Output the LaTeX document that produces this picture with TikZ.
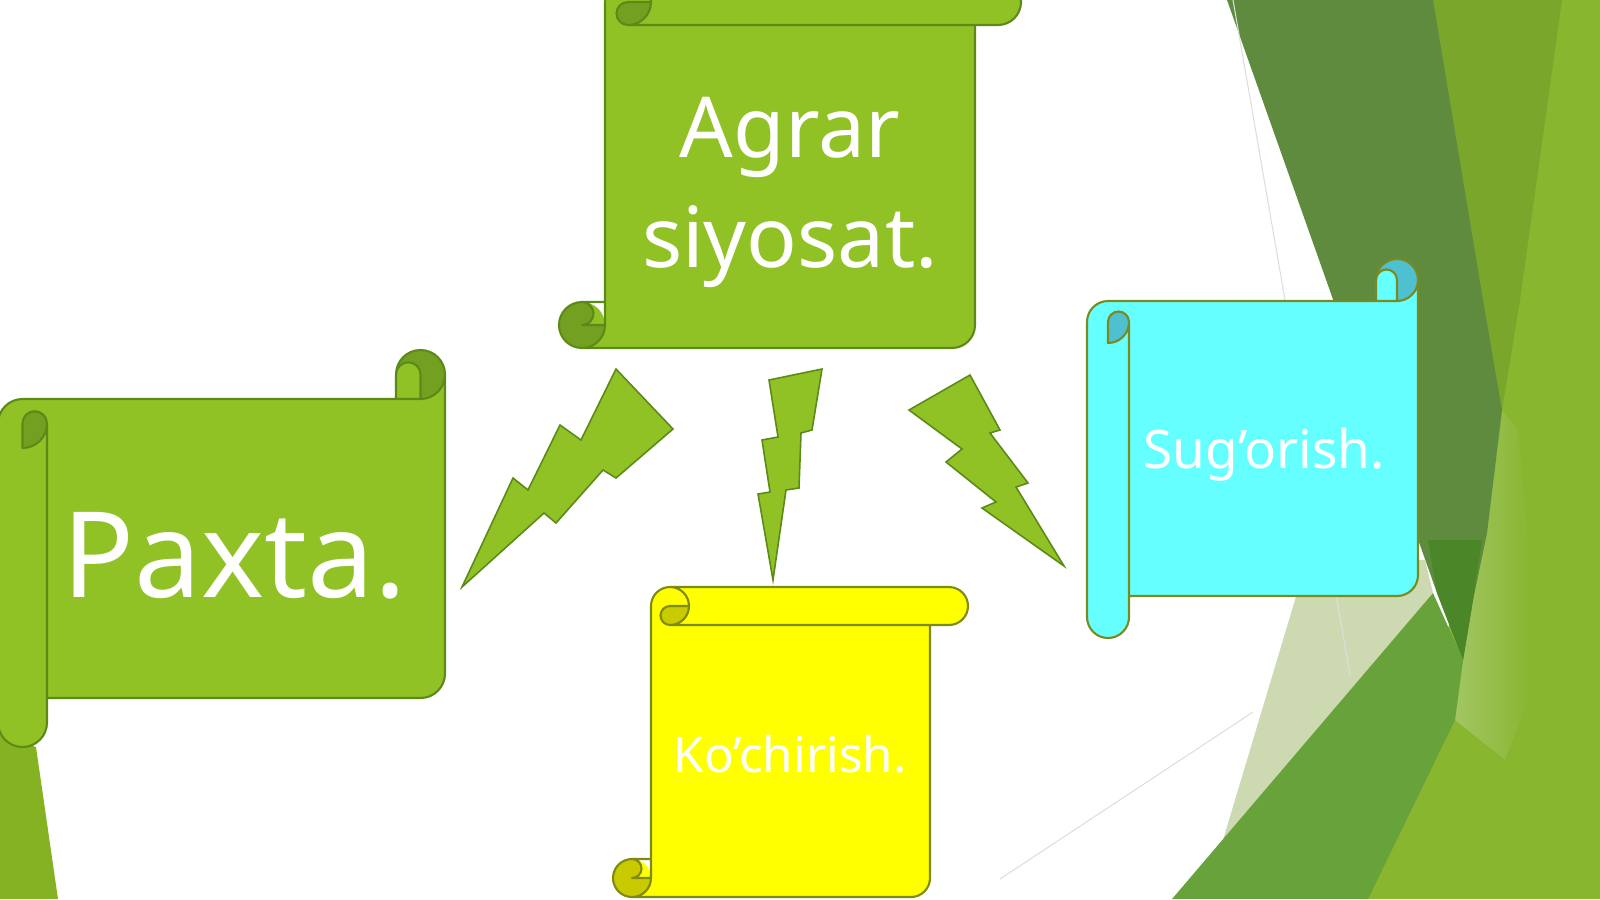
\documentclass[tikz,border=0pt]{standalone}
\usepackage{fontspec}
\setmainfont{Noto Sans}
\usepackage{tikz}
\usetikzlibrary{calc}
\definecolor{facetdark}{HTML}{5E8B3E}
\definecolor{facetolive}{HTML}{7AA72B}
\definecolor{facetlight}{HTML}{88B62F}
\definecolor{facetmid}{HTML}{67A23B}
\definecolor{facetpale}{HTML}{CDD9B1}
\definecolor{facetdeep}{HTML}{4B8728}
\definecolor{facetsoft}{HTML}{A2C563}
\definecolor{leafgreen}{HTML}{90C226}
\definecolor{leafdark}{HTML}{73A020}
\definecolor{leafline}{HTML}{5C8A18}
\definecolor{sunfill}{HTML}{FFFF00}
\definecolor{sundark}{HTML}{CACA00}
\definecolor{sunline}{HTML}{7F8A10}
\definecolor{skyfill}{HTML}{66FFFF}
\definecolor{skydark}{HTML}{4FC0D0}
\definecolor{skyline}{HTML}{7A8A20}
\newcommand\vscroll[8]{% left, top, right, bottom, roll, paper, curl, rim
  \pgfmathsetmacro\scH{#5/2}
  \pgfmathsetmacro\scQ{#5/4}
  \pgfmathsetmacro\scA{#1+#5}
  \pgfmathsetmacro\scL{#1+#5/2}
  \pgfmathsetmacro\scXc{#1+1.5*#5}
  \pgfmathsetmacro\scXd{#1+2*#5}
  \pgfmathsetmacro\scXf{#3-#5}
  \pgfmathsetmacro\scXg{#3-#5/2}
  \pgfmathsetmacro\scTh{#2+#5/2}
  \pgfmathsetmacro\scT{#2+#5}
  \pgfmathsetmacro\scYc{#4-#5}
  \pgfmathsetmacro\scYd{#4-#5/2}
  \fill[#6] (\scL,#4) arc[start angle=90,end angle=0,radius=\scH] -- (\scA,\scTh)
    arc[start angle=180,end angle=270,radius=\scH] -- (\scXg,#2)
    arc[start angle=270,end angle=450,radius=\scH] -- (\scXf,\scT) -- (\scXf,\scYd)
    arc[start angle=0,end angle=90,radius=\scH] -- cycle;
  \fill[#6] (\scXc,\scTh) circle[radius=\scH] (\scL,\scYd) circle[radius=\scH];
  \fill[#7] (\scXd,\scTh) arc[start angle=0,end angle=90,radius=\scH]
    arc[start angle=90,end angle=270,radius=\scQ] -- cycle;
  \fill[#7] (\scA,\scYd) arc[start angle=0,end angle=270,radius=\scH]
    arc[start angle=270,end angle=450,radius=\scQ] -- cycle;
  \draw[rim,draw=#8] (\scA,\scYc) -- (\scA,\scTh)
    arc[start angle=180,end angle=270,radius=\scH] -- (\scXg,#2)
    arc[start angle=270,end angle=450,radius=\scH] -- (\scXf,\scT) -- (\scXf,\scYd)
    arc[start angle=0,end angle=90,radius=\scH] -- (\scL,#4)
    arc[start angle=90,end angle=270,radius=\scH] -- cycle
    (\scXc,#2) arc[start angle=270,end angle=450,radius=\scH]
    arc[start angle=90,end angle=270,radius=\scQ] -- (\scXd,\scTh)
    (\scXf,\scT) -- (\scXc,\scT)
    (\scL,\scYc) arc[start angle=270,end angle=450,radius=\scQ] -- (\scA,\scYd)
    (\scL,#4) arc[start angle=90,end angle=0,radius=\scH] -- (\scA,\scYc);
}
\newcommand\hscroll[8]{% left, top, right, bottom, roll, paper, curl, rim
  \pgfmathsetmacro\scH{#5/2}
  \pgfmathsetmacro\scQ{#5/4}
  \pgfmathsetmacro\scA{#1+#5}
  \pgfmathsetmacro\scL{#1+#5/2}
  \pgfmathsetmacro\scXc{#3-#5}
  \pgfmathsetmacro\scXd{#3-#5/2}
  \pgfmathsetmacro\scTh{#2+#5/2}
  \pgfmathsetmacro\scT{#2+#5}
  \pgfmathsetmacro\scYc{#2+1.5*#5}
  \pgfmathsetmacro\scYd{#2+2*#5}
  \pgfmathsetmacro\scYf{#4-#5}
  \pgfmathsetmacro\scYg{#4-#5/2}
  \pgfmathsetmacro\scYe{#4-1.5*#5}
  \fill[#6] (#1,\scYc) arc[start angle=180,end angle=270,radius=\scH] -- (\scXc,\scT) -- (\scXc,\scTh)
    arc[start angle=180,end angle=360,radius=\scH] -- (#3,\scYe)
    arc[start angle=0,end angle=90,radius=\scH] -- (\scA,\scYf) -- (\scA,\scYg)
    arc[start angle=0,end angle=180,radius=\scH] -- cycle;
  \fill[#6] (\scL,\scYc) circle[radius=\scH] (\scXd,\scTh) circle[radius=\scH];
  \fill[#7] (\scXd,\scT) arc[start angle=90,end angle=-180,radius=\scH]
    arc[start angle=180,end angle=360,radius=\scQ] -- cycle;
  \fill[#7] (\scL,\scYd) arc[start angle=90,end angle=0,radius=\scH]
    arc[start angle=0,end angle=-180,radius=\scQ] -- cycle;
  \draw[rim,draw=#8] (#1,\scYc) arc[start angle=180,end angle=270,radius=\scH] -- (\scXd,\scT)
    arc[start angle=90,end angle=0,radius=\scH] -- (#3,\scYe)
    arc[start angle=0,end angle=90,radius=\scH] -- (\scA,\scYf) -- (\scA,\scYg)
    arc[start angle=0,end angle=180,radius=\scH] -- cycle
    (#3,\scTh) arc[start angle=0,end angle=-180,radius=\scH]
    arc[start angle=180,end angle=360,radius=\scQ] -- (\scXd,\scT)
    (\scXc,\scTh) -- (\scXc,\scT)
    (\scA,\scYc) arc[start angle=0,end angle=-180,radius=\scQ] -- (\scL,\scYd)
    arc[start angle=90,end angle=0,radius=\scH] -- (\scA,\scYf);
}
\tikzset{
    % outline of the scrolls
    rim/.style={line width=0.6pt, line join=round},
    % lightning bolts
    bolt/.style={fill=leafgreen, draw=leafline, line width=0.45pt},
    % thin lines of the backdrop
    seam/.style={draw=black!13, line width=0.3pt},
    % words on the scrolls
    scrolltext/.style={text=white, inner sep=0pt}
}
\begin{document}
\begin{tikzpicture}[x=0.01cm,y=-0.01cm]
  \useasboundingbox (0,0) rectangle (1600,899);
  \fill[white] (0,0) rectangle (1600,899);
  % facets of the backdrop
  \fill[facetlight] (1420,0) -- (1600,0) -- (1600,899) -- (1360,899) -- (1470,560) -- (1500,410) -- cycle;
  \fill[facetolive] (1433,0) -- (1562,0) -- (1520,300) -- (1502,410) -- (1483,300) -- cycle;
  \shade[left color=facetsoft, right color=facetlight] (1460,410) -- (1502,410) -- (1518,430) -- (1530,560)
    -- (1532,690) -- (1505,760) -- (1455,720) -- (1463,660) -- (1473,600) -- (1487,533) -- cycle;
  \fill[facetpale] (1307,560) -- (1425,560) -- (1433,593) -- (1223,840) -- cycle;
  \fill[facetdark] (1227,0) -- (1433,0) -- (1483,300) -- (1502,410) -- (1487,533) -- (1473,600)
    -- (1463,660) -- (1437,593) -- cycle;
  \fill[facetdeep] (1428,540) -- (1482,540) -- (1473,600) -- (1463,660) -- (1437,593) -- cycle;
  \fill[facetmid] (1433,593) -- (1463,660) -- (1455,720) -- (1368,899) -- (1172,899) -- cycle;
  \fill[leafgreen!92!black] (0,735) -- (36,747) -- (58,899) -- (0,899) -- cycle;
  \draw[seam] (1233,0) -- (1350,675);
  \draw[seam] (1000,879) -- (1253,712);
  % lightning bolts
  \draw[bolt] (462,587) -- (513,478) -- (528,490) -- (560,425) -- (581,440) -- (616,369)
    -- (673,429) -- (616,478) -- (603,470) -- (556,523) -- (544,513) -- cycle;
  \draw[bolt] (769,380) -- (822,369) -- (812,430) -- (801,433) -- (799,488) -- (786,490)
    -- (773,580) -- (758,494) -- (770,492) -- (762,440) -- (778,437) -- cycle;
  \draw[bolt] (909,410) -- (970,375) -- (1000,430) -- (990,433) -- (1028,483) -- (1016,487)
    -- (1064,566) -- (982,508) -- (996,502) -- (946,462) -- (962,449) -- cycle;
  % scrolls
  \vscroll{559}{-21}{1021}{348}{46}{leafgreen}{leafdark}{leafline}
  \hscroll{-2}{350}{445}{747}{49}{leafgreen}{leafdark}{leafline}
  \vscroll{613}{587}{968}{897}{38}{sunfill}{sundark}{sunline}
  \hscroll{1087}{259}{1418}{638}{42}{skyfill}{skydark}{skyline}
  \node[scrolltext, align=center, font=\fontsize{23.9}{31.3}\selectfont] (agrar) at (790,192) {Agrar\\siyosat.};
  \node[scrolltext, anchor=base, font=\fontsize{33.9}{40}\selectfont] (paxta) at (234,597) {Paxta.};
  \node[scrolltext, anchor=base, font=\fontsize{14}{17}\selectfont] (kochirish) at (790,772) {Ko’chirish.};
  \node[scrolltext, anchor=base, font=\fontsize{15.1}{18}\selectfont] (sugorish) at (1264,468) {Sug’orish.};
\end{tikzpicture}
\end{document}
